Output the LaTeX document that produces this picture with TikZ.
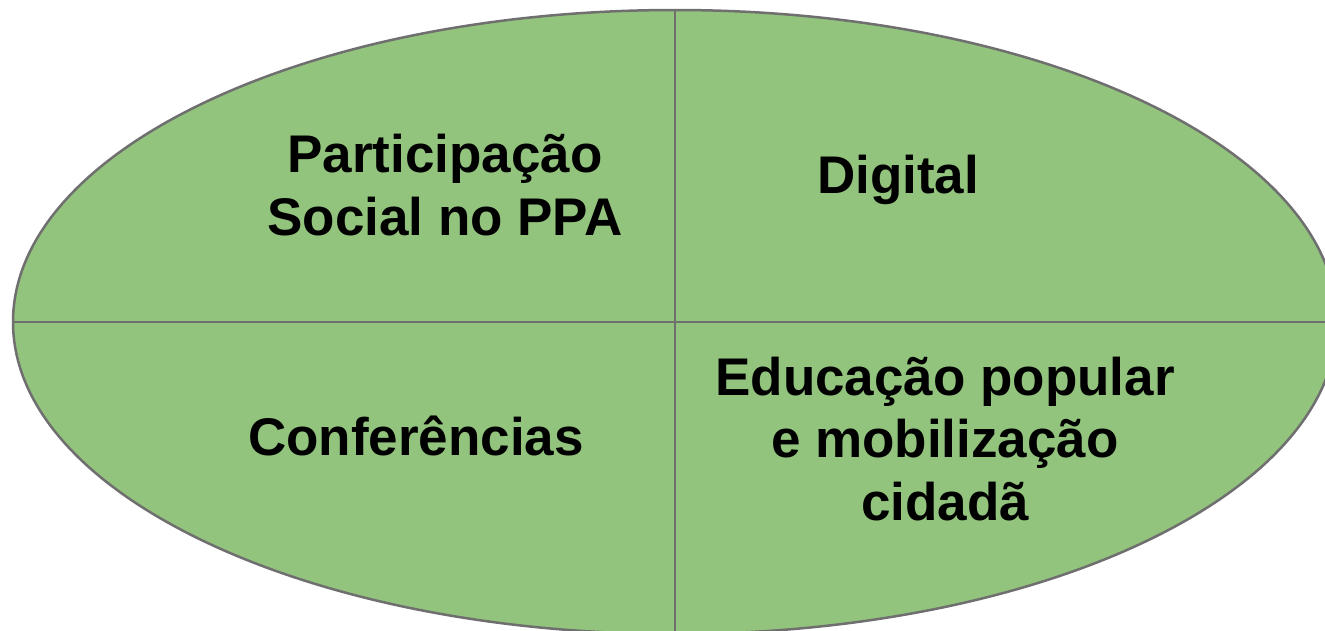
\documentclass[tikz,border=0pt]{standalone}
\usepackage{fontspec}
\setmainfont{Liberation Sans}
\usetikzlibrary{shapes.geometric}
\usetikzlibrary{positioning}
\definecolor{ovalgreen}{HTML}{93C47D}
\definecolor{ovalline}{HTML}{6F6F6F}

\begin{document}
\begin{tikzpicture}[x=1pt, y=-1pt,
	every node/.style={font=\fontsize{53}{62.5}\selectfont\bfseries, align=center, inner sep=0pt},
	oval/.style={ellipse, draw=ovalline, fill=ovalgreen, line width=2.5pt, minimum width=1324pt, minimum height=624pt},
	divider/.style={draw=ovalline, line width=2.5pt}]
		\useasboundingbox (0,0) rectangle (1325,630);
		\clip (0,0) rectangle (1325,630);
		
		\node[oval] at (675,322) (plan) {};
		
		\path[divider] (plan.north) -- (plan.south);
		\path[divider] (plan.west) -- (plan.east);
		
		% base = baseline of the last line
		\node[anchor=base] at (445,235) (social) {Participação\\Social no PPA};
		\node[anchor=base] at (898,193) (digital) {Digital};
		\node[anchor=base] at (416,455) (conf) {Conferências};
		\node[anchor=base] at (945,520) (educ) {Educação popular\\e mobilização\\cidadã};
	\end{tikzpicture}
\end{document}
